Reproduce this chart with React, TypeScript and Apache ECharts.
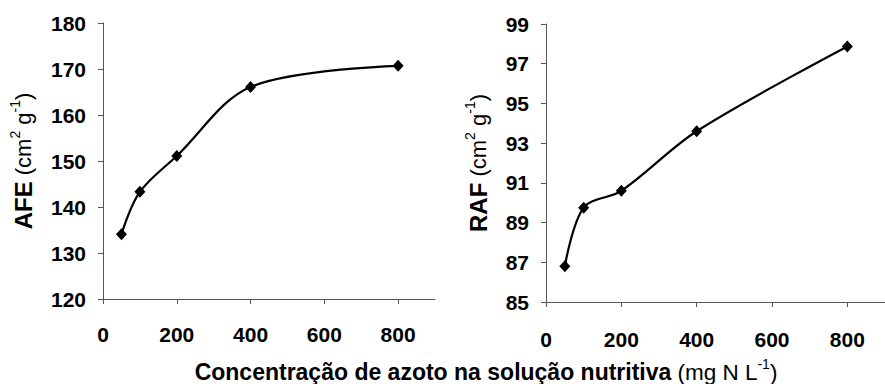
import React, { useEffect, useRef } from "react";
import * as echarts from "echarts";

const xValues = [50, 100, 200, 400, 800];
const afeValues = [134.1, 143.3, 151.1, 166.1, 170.7];
const rafValues = [86.8, 89.75, 90.6, 93.6, 97.87];
const xTicks = [0, 200, 400, 600, 800];
const afeTicks = [120, 130, 140, 150, 160, 170, 180];
const rafTicks = [85, 87, 89, 91, 93, 95, 97, 99];

const FONT = "'Liberation Sans', Arial, sans-serif";
const AXIS_COLOR = "#555";

const nameRich = {
  b: { fontFamily: FONT, fontWeight: "bold", fontSize: 24, color: "#000", lineHeight: 30 },
  r: { fontFamily: FONT, fontWeight: "normal", fontSize: 22, color: "#000", lineHeight: 30 },
  s: { fontFamily: FONT, fontWeight: "normal", fontSize: 14, color: "#000", lineHeight: 30, verticalAlign: "top" },
};

function xAxisCfg(gridIndex: number, margin: number) {
  return {
    type: "value",
    gridIndex,
    min: 0,
    max: 900,
    axisLine: { show: true, lineStyle: { color: AXIS_COLOR, width: 1 } },
    axisTick: { show: true, length: 5, customValues: xTicks, lineStyle: { color: AXIS_COLOR } },
    axisLabel: {
      customValues: xTicks,
      margin,
      fontFamily: FONT,
      fontWeight: "bold",
      fontSize: 21,
      color: "#000",
    },
    splitLine: { show: false },
  };
}

function yAxisCfg(gridIndex: number, min: number, max: number, ticks: number[], name: string, nameGap: number) {
  return {
    type: "value",
    gridIndex,
    min,
    max,
    name,
    nameLocation: "middle",
    nameRotate: 90,
    nameGap,
    nameTextStyle: { fontFamily: FONT, fontSize: 22, color: "#000", rich: nameRich },
    axisLine: { show: true, lineStyle: { color: AXIS_COLOR, width: 1 } },
    axisTick: { show: true, length: 5, customValues: ticks, lineStyle: { color: AXIS_COLOR } },
    axisLabel: {
      customValues: ticks,
      margin: 17,
      fontFamily: FONT,
      fontWeight: "bold",
      fontSize: 21,
      color: "#000",
    },
    splitLine: { show: false },
  };
}

function seriesCfg(idx: number, values: number[]) {
  return {
    type: "line",
    xAxisIndex: idx,
    yAxisIndex: idx,
    data: xValues.map((x, i) => [x, values[i]]),
    smooth: 0.33,
    symbol: "diamond",
    symbolSize: [11, 12],
    itemStyle: { color: "#000" },
    lineStyle: { color: "#000", width: 2.2 },
  };
}

export default function App() {
  const ref = useRef<HTMLDivElement>(null);
  useEffect(() => {
    if (!ref.current) return;
    const chart = echarts.init(ref.current, null, { renderer: "svg" });
    chart.setOption({
      animation: false,
      backgroundColor: "#fff",
      grid: [
        { left: 103, right: 450, top: 23, bottom: 85 },
        { left: 546, right: -7, top: 24, bottom: 82 },
      ],
      xAxis: [xAxisCfg(0, 25), xAxisCfg(1, 27)],
      yAxis: [
        yAxisCfg(0, 120, 180, afeTicks, "{b|AFE} {r|(cm}{s|2}{r| g}{s|-1}{r|)}", 65),
        yAxisCfg(1, 85, 99, rafTicks, "{b|RAF} {r|(cm}{s|2}{r| g}{s|-1}{r|)}", 53),
      ],
      series: [seriesCfg(0, afeValues), seriesCfg(1, rafValues)],
      graphic: [
        {
          type: "text",
          x: 486,
          y: 372,
          style: {
            text: "{b|Concentração de azoto na solução nutritiva} {r|(mg N L}{s|-1}{r|)}",
            align: "center",
            verticalAlign: "middle",
            font: `22px ${FONT}`,
            rich: {
              b: { fontFamily: FONT, fontWeight: "bold", fontSize: 23, fill: "#000", lineHeight: 30 },
              r: { fontFamily: FONT, fontWeight: "normal", fontSize: 22.5, fill: "#000", lineHeight: 30 },
              s: { fontFamily: FONT, fontWeight: "normal", fontSize: 14, fill: "#000", lineHeight: 30, verticalAlign: "top" },
            },
          },
        },
      ],
    });
    return () => chart.dispose();
  }, []);
  return (
    <div
      ref={ref}
      style={{ position: "fixed", left: 0, top: 0, width: 885, height: 384, background: "#fff" }}
    />
  );
}
